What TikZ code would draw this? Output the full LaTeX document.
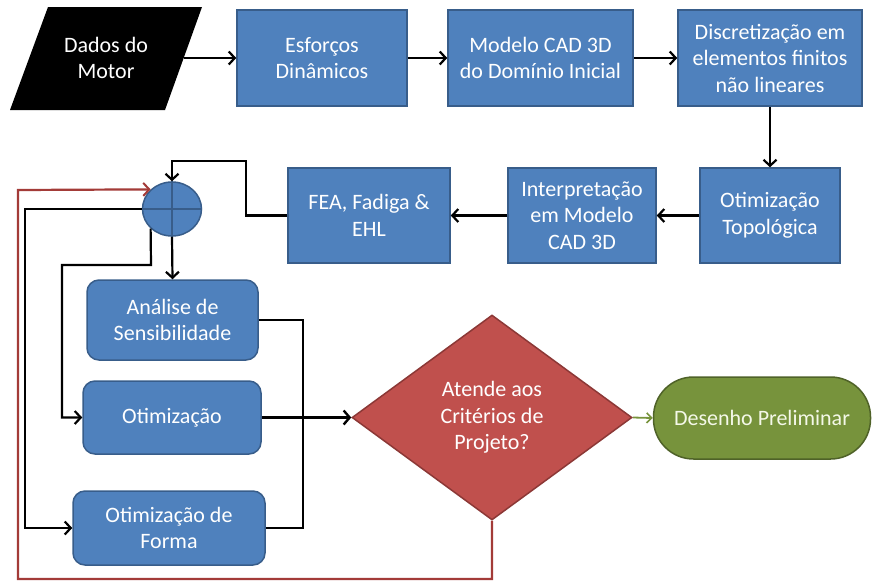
\documentclass[tikz,border=0pt]{standalone}
\usepackage{fontspec}
\setmainfont{Carlito}
\usetikzlibrary{arrows.meta,shapes.geometric}
\definecolor{boxblue}{HTML}{4F81BD}
\definecolor{blueedge}{HTML}{385D8A}
\definecolor{boxred}{HTML}{C0504D}
\definecolor{rededge}{HTML}{8C3836}
\definecolor{loopred}{HTML}{A33B38}
\definecolor{boxgreen}{HTML}{77933C}
\definecolor{greenedge}{HTML}{4F6228}
\definecolor{greentext}{HTML}{F4F8E8}
\begin{document}
\begin{tikzpicture}[x=1pt,y=-1pt,
  every node/.style={inner sep=0pt, align=center, font=\fontsize{22}{26.5}\selectfont},
  proc/.style={draw=blueedge, fill=boxblue, line width=1.5pt, text=white},
  rproc/.style={proc, rounded corners=12pt},
  link/.style={draw=black, line width=2.2pt},
  arr/.style={link, -{Straight Barb[length=6pt,width=13pt,line width=2.2pt]}},
  loop/.style={draw=loopred, line width=2.2pt},
  looparr/.style={loop, -{Straight Barb[length=6pt,width=13pt,line width=2pt]}},
  okarr/.style={draw=boxgreen, line width=1.8pt, -{Straight Barb[length=5pt,width=10pt,line width=1.6pt]}}
]
\useasboundingbox (0,0) rectangle (872,582);

% input data (parallelogram)
\fill[black] (48,7) -- (202,7) -- (165,110) -- (10,110) -- cycle;
\node[text=white] (dados) at (106,58) {Dados do\\Motor};
\coordinate (dadosR) at (184,58);

% top row
\node[proc, minimum width=170pt, minimum height=96pt] (esf)  at (322,58)   {Esforços\\Dinâmicos};
\node[proc, minimum width=185pt, minimum height=96pt] (cad)  at (540.5,58) {Modelo CAD 3D\\do Domínio Inicial};
\node[proc, minimum width=184pt, minimum height=96pt] (disc) at (770,58)   {Discretização em\\elementos finitos\\não lineares};

% second row
\node[proc, minimum width=140pt, minimum height=95pt] (topo)   at (770,215.5) {Otimização\\Topológica};
\node[proc, minimum width=148pt, minimum height=95pt] (interp) at (582,215.5) {Interpretação\\em Modelo\\CAD 3D};
\node[proc, minimum width=162pt, minimum height=95pt] (fea)    at (369,215.5) {FEA, Fadiga \&\\EHL};

% summing junction
\node[ellipse, draw=blueedge, fill=boxblue, line width=1.5pt,
      minimum width=59pt, minimum height=54pt] (sum) at (172,209) {};
\draw[blueedge, line width=1.5pt] (sum.north) -- (sum.south) (sum.west) -- (sum.east);

% optimisation blocks
\node[rproc, minimum width=171pt, minimum height=80pt] (ana)   at (172.5,320) {Análise de\\Sensibilidade};
\node[rproc, minimum width=178pt, minimum height=73pt] (otim)  at (172,417.5) {Otimização};
\node[rproc, minimum width=192pt, minimum height=74pt] (forma) at (169,528)   {Otimização de\\Forma};

% decision and result
\node[diamond, draw=rededge, fill=boxred, line width=1.5pt, text=white,
      minimum width=280pt, minimum height=205pt] (dia) at (492,417.5) {Atende aos\\Critérios de\\Projeto?};
\node[draw=greenedge, fill=boxgreen, line width=1.5pt, text=greentext, rounded corners=40pt,
      minimum width=217pt, minimum height=82pt] (des) at (762,418) {Desenho Preliminar};

% main chain
\draw[arr] (dadosR) -- (esf.west);
\draw[arr] (esf.east) -- (cad.west);
\draw[arr] (cad.east) -- (disc.west);
\draw[arr] (disc.south) -- (topo.north);
\draw[arr] (topo.west) -- (interp.east);
\draw[arr] (interp.west) -- (fea.east);
\draw[arr] (fea.west) -- (246,215.5) -- (246,161) -- (172,161) -- (sum.north);

% junction to optimisation blocks
\draw[arr] (sum.south) -- (ana.north);
\draw[arr] (sum.south west) -- (151,265) -- (62,265) -- (62,417.5) -- (otim.west);
\draw[arr] (sum.west) -- (25,209) -- (25,528) -- (forma.west);

% collector into decision
\draw[link] (ana.east) -- (303,320) -- (303,528) -- (forma.east);
\draw[link, line width=3pt, -{Straight Barb[length=6pt,width=14pt,line width=2.4pt]}] (otim.east) -- (dia.west);

% outcomes
\draw[okarr] (dia.east) -- (des.west);
\draw[looparr] (dia.south) -- (492,579) -- (18,579) -- (18,190) -- (sum.north west);
\end{tikzpicture}
\end{document}
